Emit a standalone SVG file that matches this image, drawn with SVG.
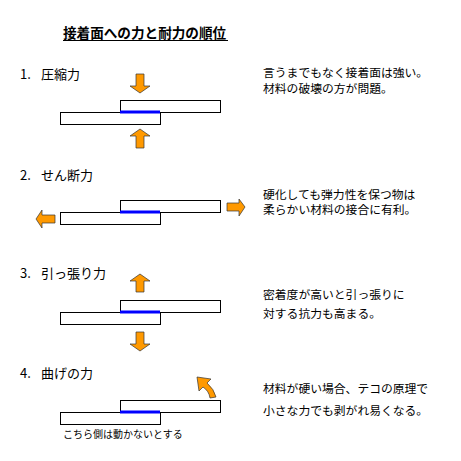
<svg xmlns="http://www.w3.org/2000/svg" width="461" height="461" viewBox="0 0 461 461">
<style>
text{font-family:"Noto Sans CJK JP","Noto Sans",sans-serif;fill:#000}
.t{font-size:13.6px;font-weight:bold}
.h{font-size:13px}
.d{font-size:11.8px}
.n{font-size:10px}
.plate{fill:#fff;stroke:#000;stroke-width:1}
.bond{stroke:#0000ff;stroke-width:3}
.arr{fill:#ff9900;stroke:#333;stroke-width:0.7}
</style>
<rect width="461" height="461" fill="#fff"/>
<g id="title">
<text class="t" x="63" y="38">接着面への力と耐力の順位</text>
<line x1="63" y1="40.5" x2="228" y2="40.5" stroke="#000" stroke-width="1"/>
</g>
<g id="s1">
<text class="h" x="20" y="79">1. <tspan x="41">圧縮力</tspan></text>
<rect class="plate" x="120.5" y="100.5" width="100" height="12"/>
<rect class="plate" x="60.5" y="112.5" width="100" height="12"/>
<line class="bond" x1="120" y1="112" x2="160" y2="112"/>
<text class="d" x="263" y="76.5">言うまでもなく接着面は強い。</text>
<text class="d" x="263" y="92.5">材料の破壊の方が問題。</text>
</g>
<g id="s2">
<text class="h" x="20" y="180">2. <tspan x="41">せん断力</tspan></text>
<rect class="plate" x="120.5" y="200.5" width="100" height="12"/>
<rect class="plate" x="60.5" y="212.5" width="100" height="12"/>
<line class="bond" x1="120" y1="212" x2="160" y2="212"/>
<text class="d" x="263" y="198.5">硬化しても弾力性を保つ物は</text>
<text class="d" x="263" y="214">柔らかい材料の接合に有利。</text>
</g>
<g id="s3">
<text class="h" x="20" y="278">3. <tspan x="41">引っ張り力</tspan></text>
<rect class="plate" x="120.5" y="300.5" width="100" height="12"/>
<rect class="plate" x="60.5" y="312.5" width="100" height="12"/>
<line class="bond" x1="120" y1="312" x2="160" y2="312"/>
<text class="d" x="263" y="299">密着度が高いと引っ張りに</text>
<text class="d" x="263" y="317.5">対する抗力も高まる。</text>
</g>
<g id="s4">
<text class="h" x="20" y="378">4. <tspan x="41">曲げの力</tspan></text>
<rect class="plate" x="120.5" y="400.5" width="100" height="12"/>
<rect class="plate" x="60.5" y="412.5" width="100" height="12"/>
<line class="bond" x1="120" y1="412" x2="160" y2="412"/>
<text class="n" x="63" y="438">こちら側は動かないとする</text>
<text class="d" x="263" y="392.5">材料が硬い場合、テコの原理で</text>
<text class="d" x="263" y="414.5">小さな力でも剥がれ易くなる。</text>
</g>
<g id="connectors">
<path class="arr" d="M136,74 H144 V86 H150 L140,93 L130,86 H136 Z"/>
<path class="arr" d="M140,129 L150,136 H144 V148 H136 V136 H130 Z"/>
<path class="arr" d="M36,219 L42,210 V215 H55 V223 H42 V228 Z"/>
<path class="arr" d="M227,203 H239 V199 L245,207 L239,216 V211 H227 Z"/>
<path class="arr" d="M140,274 L150,281 H144 V292 H136 V281 H130 Z"/>
<path class="arr" d="M136,332 H144 V344 H150 L140,351 L130,344 H136 Z"/>
<path class="arr" d="M197,377 L211,379 L207,383 Q214,389 216,397 L210,398 Q209,391 203,387 L199,391 Z"/>
</g>
</svg>
